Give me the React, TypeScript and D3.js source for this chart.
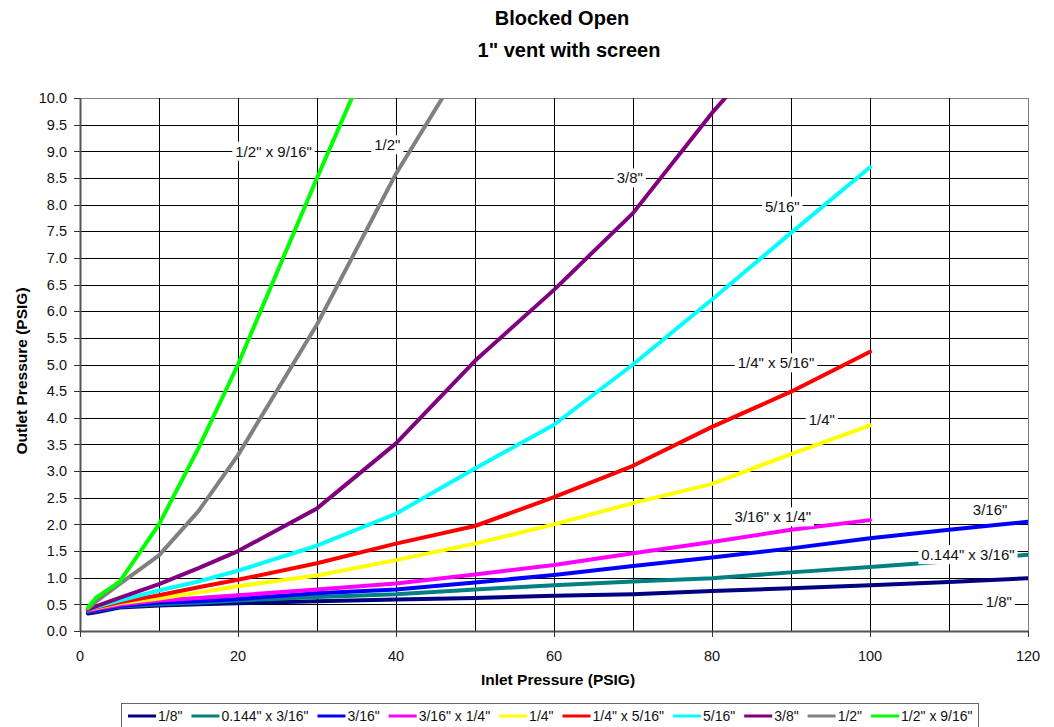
import React, { useEffect, useRef } from "react";
import * as d3 from "d3";

const inlet = [1, 2, 5, 10, 15, 20, 30, 40, 50, 60, 70, 80, 90, 100, 110, 120];

const seriesNames = ['1/8"', '0.144" x 3/16"', '3/16"', '3/16" x 1/4"', '1/4"', '1/4" x 5/16"', '5/16"', '3/8"', '1/2"', '1/2" x 9/16"'];
const seriesColors = ["#000080", "#008080", "#0000FF", "#FF00FF", "#FFFF00", "#FF0000", "#00FFFF", "#800080", "#808080", "#00FF00"];

const s18 = [0.33, 0.35, 0.44, 0.48, 0.5, 0.52, 0.56, 0.59, 0.62, 0.66, 0.69, 0.75, 0.8, 0.86, 0.92, 0.99];
const s0144x316 = [0.36, 0.38, 0.46, 0.5, 0.53, 0.57, 0.64, 0.69, 0.78, 0.86, 0.93, 0.99, 1.1, 1.2, 1.31, 1.43];
const s316 = [0.37, 0.39, 0.47, 0.53, 0.56, 0.6, 0.71, 0.78, 0.91, 1.05, 1.22, 1.38, 1.55, 1.74, 1.9, 2.05];
const s316x14 = [0.38, 0.41, 0.49, 0.57, 0.62, 0.67, 0.78, 0.89, 1.06, 1.24, 1.46, 1.67, 1.9, 2.08, null, null];
const s14 = [0.4, 0.43, 0.52, 0.61, 0.72, 0.84, 1.04, 1.33, 1.64, 2.0, 2.4, 2.76, 3.32, 3.86, null, null];
const s14x516 = [0.4, 0.44, 0.54, 0.67, 0.82, 0.96, 1.27, 1.64, 1.97, 2.51, 3.1, 3.83, 4.49, 5.24, null, null];
const s516 = [0.4, 0.45, 0.57, 0.76, 0.93, 1.13, 1.6, 2.2, 3.05, 3.87, 5.0, 6.22, 7.47, 8.7, null, null];
const s38 = [0.4, 0.46, 0.62, 0.88, 1.18, 1.5, 2.3, 3.52, 5.07, 6.4, 7.84, 9.72, 11.4, null, null, null];
const s12 = [0.42, 0.55, 0.88, 1.42, 2.25, 3.3, 5.75, 8.58, 11.0, null, null, null, null, null, null, null];
const s12x916 = [0.44, 0.62, 0.92, 2.0, 3.43, 5.0, 8.5, 11.9, null, null, null, null, null, null, null, null];

const seriesValues = [s18, s0144x316, s316, s316x14, s14, s14x516, s516, s38, s12, s12x916];

// in-chart labels: series index, anchor (data coords)
const labelSeries = [9, 8, 7, 6, 5, 4, 3, 2, 1, 0];
const labelX = [24.5, 38.9, 69.6, 88.9, 88.1, 93.9, 87.7, 115.2, 112.4, 116.3];
const labelY = [9.0, 9.12, 8.5, 7.97, 5.03, 3.97, 2.14, 2.27, 1.43, 0.56];

const xTicks = [0, 20, 40, 60, 80, 100, 120];
const xGrid = d3.range(0, 121, 10);
const yTicks = d3.range(0, 10.01, 0.5);

const W = 1054, H = 727;
const M = { left: 80, right: 1028, top: 98, bottom: 631 };
const FONT = "'Liberation Sans', Arial, sans-serif";

export default function App() {
  const ref = useRef<SVGSVGElement>(null);
  useEffect(() => {
    const svg = d3.select(ref.current);
    svg.selectAll("*").remove();
    const x = d3.scaleLinear().domain([0, 120]).range([M.left, M.right]);
    const y = d3.scaleLinear().domain([0, 10]).range([M.bottom, M.top]);

    svg.append("rect").attr("width", W).attr("height", H).attr("fill", "#fff");

    // title
    const t = svg.append("text").attr("text-anchor", "middle").attr("font-family", FONT)
      .attr("font-weight", "bold").attr("font-size", 20).attr("fill", "#000");
    t.append("tspan").attr("x", 562).attr("y", 25).text("Blocked Open");
    t.append("tspan").attr("x", 569).attr("y", 57).text('1" vent with screen');

    // grid
    const g = svg.append("g");
    g.selectAll("line.h").data(yTicks.slice(1)).join("line")
      .attr("x1", M.left).attr("x2", M.right)
      .attr("y1", d => Math.round(y(d)) + 0.5).attr("y2", d => Math.round(y(d)) + 0.5)
      .attr("stroke", d => d === 10 ? "#808080" : "#000").attr("stroke-width", 1);
    g.selectAll("line.v").data(xGrid.slice(1)).join("line")
      .attr("y1", M.top).attr("y2", M.bottom)
      .attr("x1", d => Math.round(x(d)) + 0.5).attr("x2", d => Math.round(x(d)) + 0.5)
      .attr("stroke", d => d === 120 ? "#808080" : "#000").attr("stroke-width", 1);

    // axes lines
    g.append("line").attr("x1", M.left + 0.5).attr("x2", M.left + 0.5).attr("y1", M.top).attr("y2", M.bottom)
      .attr("stroke", "#555").attr("stroke-width", 2);
    g.append("line").attr("x1", M.left).attr("x2", M.right).attr("y1", M.bottom + 0.5).attr("y2", M.bottom + 0.5)
      .attr("stroke", "#555").attr("stroke-width", 2);
    // ticks
    g.selectAll("line.yt").data(yTicks).join("line")
      .attr("x1", M.left - 6).attr("x2", M.left)
      .attr("y1", d => Math.round(y(d)) + 0.5).attr("y2", d => Math.round(y(d)) + 0.5)
      .attr("stroke", "#333");
    g.selectAll("line.xt").data(xTicks).join("line")
      .attr("y1", M.bottom).attr("y2", M.bottom + 6)
      .attr("x1", d => Math.round(x(d)) + 0.5).attr("x2", d => Math.round(x(d)) + 0.5)
      .attr("stroke", "#333");

    g.selectAll("text.yl").data(yTicks).join("text")
      .attr("x", M.left - 13).attr("y", d => y(d)).attr("dy", "0.36em")
      .attr("text-anchor", "end").attr("font-family", FONT).attr("font-size", 14.5).attr("fill", "#111")
      .text(d => d3.format(".1f")(d));
    g.selectAll("text.xl").data(xTicks).join("text")
      .attr("x", d => x(d)).attr("y", 661)
      .attr("text-anchor", "middle").attr("font-family", FONT).attr("font-size", 14.5).attr("fill", "#111")
      .text(d => String(d));

    svg.append("text").attr("x", 558).attr("y", 685).attr("text-anchor", "middle")
      .attr("font-family", FONT).attr("font-weight", "bold").attr("font-size", 15.5).attr("fill", "#000")
      .text("Inlet Pressure  (PSIG)");
    svg.append("text").attr("transform", "translate(27,371) rotate(-90)").attr("text-anchor", "middle")
      .attr("font-family", FONT).attr("font-weight", "bold").attr("font-size", 15.5).attr("fill", "#000")
      .text("Outlet Pressure  (PSIG)");

    // clip
    svg.append("clipPath").attr("id", "plotclip").append("rect")
      .attr("x", M.left).attr("y", M.top).attr("width", M.right - M.left).attr("height", M.bottom - M.top);

    const line = d3.line<[number, number | null]>()
      .defined(d => d[1] != null)
      .x(d => x(d[0])).y(d => y(d[1] as number));

    const lg = svg.append("g").attr("clip-path", "url(#plotclip)");
    seriesValues.forEach((vals, i) => {
      const pts = inlet.map((v, j) => [v, vals[j]] as [number, number | null]);
      lg.append("path").attr("d", line(pts) || "").attr("fill", "none")
        .attr("stroke", seriesColors[i]).attr("stroke-width", 4)
        .attr("stroke-linejoin", "round").attr("stroke-linecap", "round");
    });

    // in-chart labels
    labelSeries.forEach((si, k) => {
      const lgp = svg.append("g");
      const tx = lgp.append("text").attr("x", x(labelX[k])).attr("y", y(labelY[k])).attr("dy", "0.36em")
        .attr("text-anchor", "middle").attr("font-family", FONT).attr("font-size", 15).attr("fill", "#111")
        .text(seriesNames[si]);
      const bb = (tx.node() as SVGTextElement).getBBox();
      lgp.insert("rect", "text").attr("x", bb.x - 3).attr("y", bb.y - 1).attr("width", bb.width + 6)
        .attr("height", bb.height + 2).attr("fill", "#fff");
    });

    // legend
    const leg = svg.append("g");
    const box = leg.append("rect").attr("y", 703.5).attr("height", 30).attr("fill", "#fff")
      .attr("stroke", "#666").attr("stroke-width", 1);
    let cx = 128;
    seriesNames.forEach((n, i) => {
      leg.append("line").attr("x1", cx).attr("x2", cx + 28).attr("y1", 716).attr("y2", 716)
        .attr("stroke", seriesColors[i]).attr("stroke-width", 3);
      const tx = leg.append("text").attr("x", cx + 30).attr("y", 716).attr("dy", "0.36em")
        .attr("font-family", FONT).attr("font-size", 14).attr("fill", "#111").text(n);
      const w = (tx.node() as SVGTextElement).getComputedTextLength();
      cx = cx + 30 + w + 9;
    });
    box.attr("x", 121.5).attr("width", cx - 121.5 - 3);
  }, []);

  return (
    <div style={{ position: "absolute", left: 0, top: 0 }}>
      <svg ref={ref} width={W} height={H} style={{ display: "block" }} />
    </div>
  );
}
